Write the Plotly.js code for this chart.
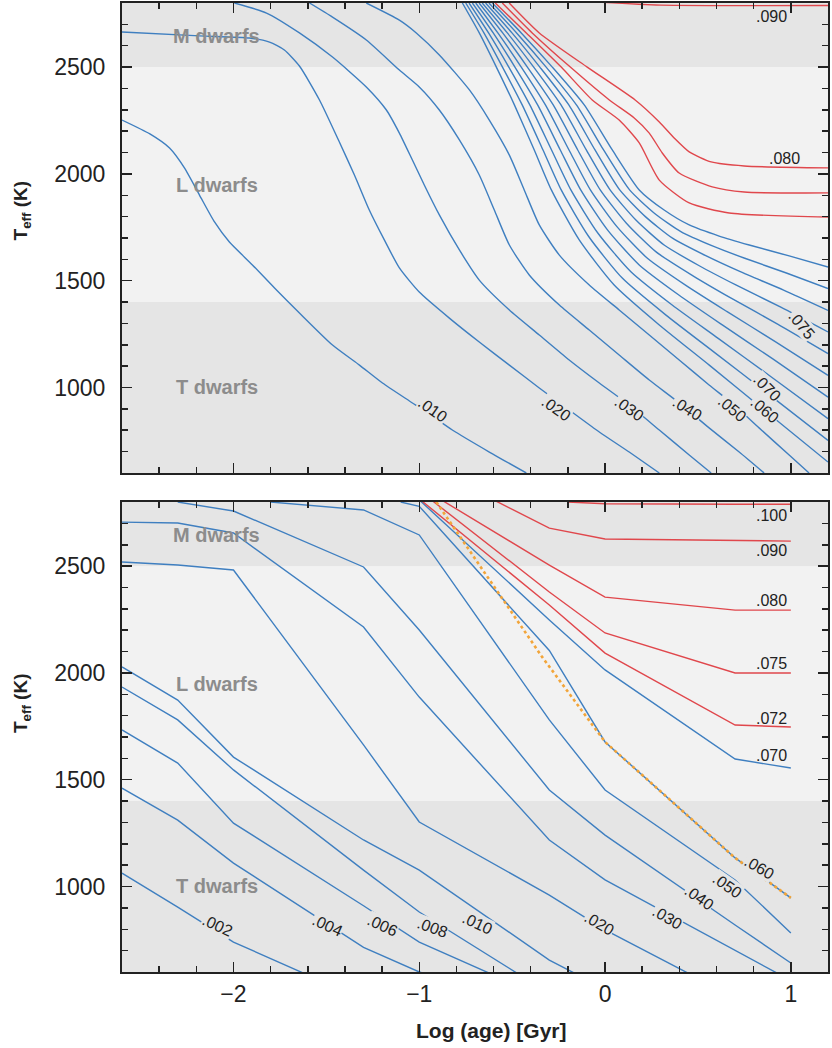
<!DOCTYPE html>
<html><head><meta charset="utf-8">
<script src="https://cdn.plot.ly/plotly-3.0.1.min.js"></script>
<style>body{margin:0;background:#fff}</style>
</head><body><div id="chart" style="width:832px;height:1048px"></div>
<script>
// ---------- TOP PANEL (smooth evolutionary tracks) ----------
const top010Age = [-2.60,-2.45,-2.344,-2.264,-2.183,-2.102,-2.022,-1.898,-1.779,-1.645,-1.467,-1.322,-1.198,-1.053,-0.946,-0.822,-0.623,-0.424];
const top010Teff = [2252,2187,2121,2028,1901,1775,1681,1574,1466,1349,1199,1105,1021,937,876,801,698,600];
const top020Age = [-2.602,-2.183,-1.914,-1.806,-1.726,-1.645,-1.537,-1.430,-1.349,-1.269,-1.188,-1.107,-1.0,-0.838,-0.677,-0.515,-0.354,-0.193,-0.031,0.130,0.292];
const top020Teff = [2664,2646,2636,2617,2580,2505,2346,2149,1995,1831,1691,1560,1447,1325,1213,1105,998,895,792,698,600];
const top030Age = [-1.995,-1.822,-1.645,-1.467,-1.285,-1.177,-1.107,-1.037,-0.973,-0.892,-0.784,-0.677,-0.515,-0.354,-0.193,-0.031,0.130,0.292,0.453,0.571];
const top030Teff = [2800,2753,2660,2547,2407,2299,2191,2065,1948,1808,1644,1503,1363,1246,1129,1021,918,801,684,600];
const top040Age = [-1.591,-1.467,-1.285,-1.107,-1.0,-0.892,-0.784,-0.677,-0.596,-0.515,-0.408,-0.246,-0.085,0.076,0.238,0.399,0.560,0.722,0.856];
const top040Teff = [2800,2734,2627,2486,2407,2299,2159,1995,1831,1667,1527,1386,1269,1152,1035,928,811,698,600];
const top050Age = [-1.285,-1.107,-1.016,-0.892,-0.730,-0.623,-0.515,-0.435,-0.354,-0.246,-0.085,0.076,0.238,0.399,0.560,0.695,0.829,0.991,1.098];
const top050Teff = [2800,2720,2660,2557,2393,2252,2088,1925,1761,1620,1480,1363,1246,1129,1012,918,811,684,600];

// bundle of tracks near the substellar boundary (.060 ... .077), blue
const top060Age = [-0.768,-0.677,-0.585,-0.488,-0.381,-0.289,-0.139,0.049,0.292,0.561,0.856,1.2];
const top060Teff = [2800,2660,2500,2323,2112,1925,1691,1480,1293,1105,895,651];
const top062Age = [-0.750,-0.652,-0.552,-0.446,-0.334,-0.236,-0.088,0.094,0.328,0.585,0.871,1.2];
const top062Teff = [2800,2660,2500,2323,2112,1925,1707,1511,1339,1167,975,752];
const top065Age = [-0.732,-0.627,-0.518,-0.405,-0.288,-0.184,-0.038,0.139,0.363,0.609,0.886,1.2];
const top065Teff = [2800,2660,2500,2323,2112,1925,1722,1542,1385,1230,1055,854];
const top068Age = [-0.714,-0.602,-0.485,-0.363,-0.241,-0.131,0.013,0.184,0.399,0.633,0.901,1.2];
const top068Teff = [2800,2660,2500,2323,2112,1925,1738,1574,1432,1292,1135,955];
const top070Age = [-0.696,-0.577,-0.451,-0.321,-0.194,-0.079,0.064,0.228,0.435,0.657,0.916,1.2];
const top070Teff = [2800,2660,2500,2323,2112,1925,1753,1605,1478,1355,1215,1057];
const top072Age = [-0.678,-0.551,-0.418,-0.279,-0.147,-0.026,0.115,0.273,0.471,0.681,0.931,1.2];
const top072Teff = [2800,2660,2500,2323,2112,1925,1769,1636,1524,1417,1296,1159];
const top075Age = [-0.661,-0.526,-0.384,-0.237,-0.101,0.027,0.166,0.318,0.507,0.704,0.946,1.2];
const top075Teff = [2800,2660,2500,2323,2112,1925,1784,1667,1570,1480,1376,1260];
const top076Age = [-0.643,-0.501,-0.351,-0.195,-0.054,0.079,0.217,0.363,0.542,0.728,0.961,1.2];
const top076Teff = [2800,2660,2500,2323,2112,1925,1800,1699,1617,1542,1456,1361];
const top0765Age = [-0.625,-0.476,-0.317,-0.154,-0.008,0.132,0.267,0.408,0.578,0.752,0.976,1.2];
const top0765Teff = [2800,2660,2500,2323,2112,1925,1815,1730,1663,1605,1536,1463];
const top077Age = [-0.607,-0.451,-0.284,-0.112,0.039,0.184,0.318,0.453,0.614,0.776,0.991,1.2];
const top077Teff = [2800,2660,2500,2323,2112,1925,1831,1761,1709,1667,1616,1564];
// hydrogen-burning stars (red)
const top078Age = [-0.591,-0.424,-0.236,-0.069,0.076,0.184,0.292,0.453,0.668,1.2];
const top078Teff = [2800,2660,2500,2346,2252,2145,1971,1864,1817,1798];
const top079Age = [-0.553,-0.392,-0.187,0.023,0.157,0.238,0.308,0.399,0.577,0.749,1.2];
const top079Teff = [2800,2660,2500,2346,2262,2191,2098,2004,1939,1915,1911];
const top080Age = [-0.516,-0.354,-0.096,0.162,0.292,0.372,0.453,0.571,0.749,1.2];
const top080Teff = [2800,2660,2500,2346,2243,2168,2103,2056,2037,2028];
const top090Age = [-0.05,0.3,1.2];
const top090Teff = [2805,2790,2788];

// ---------- BOTTOM PANEL (piecewise tracks) ----------
const bot002Age = [-2.6,-2.3,-2.0,-1.3];
const bot002Teff = [1063,904,740,470];
const bot004Age = [-2.6,-2.3,-2.0,-1.3,-1.0,-0.3];
const bot004Teff = [1461,1311,1110,715,600,420];
const bot006Age = [-2.6,-2.3,-2.0,-1.3,-1.0,-0.3];
const bot006Teff = [1733,1578,1297,910,740,470];
const bot008Age = [-2.6,-2.3,-2.0,-1.3,-1.0,-0.3];
const bot008Teff = [1934,1780,1546,1077,881,500];
const bot010Age = [-2.6,-2.3,-2.0,-1.3,-1.0,-0.3,0.0];
const bot010Teff = [2028,1873,1606,1218,1077,656,520];
const bot020Age = [-2.6,-2.3,-2.0,-1.3,-1.0,-0.3,0.0,0.7];
const bot020Teff = [2519,2505,2482,1663,1302,960,797,480];
const bot030Age = [-2.6,-2.3,-2.0,-1.3,-1.0,-0.3,0.0,0.7,1.0];
const bot030Teff = [2706,2702,2655,2215,1887,1218,1031,703,560];
const bot040Age = [-2.3,-2.0,-1.3,-1.0,-0.3,0.0,0.7,1.0];
const bot040Teff = [2800,2758,2496,2201,1452,1241,820,642];
const bot050Age = [-1.8,-1.3,-1.0,-0.3,0.0,0.7,1.0];
const bot050Teff = [2800,2763,2646,1780,1452,1031,783];
const bot060Age = [-1.1,-1.0,-0.3,0.0,0.7,1.0];
const bot060Teff = [2800,2780,2105,1677,1134,947];
const bot070Age = [-1.0,-0.3,0.0,0.7,1.0];
const bot070Teff = [2810,2248,2014,1597,1555];
const bot072Age = [-1.0,-0.3,0.0,0.7,1.0];
const bot072Teff = [2815,2318,2093,1756,1747];
const bot075Age = [-0.95,-0.3,0.0,0.7,1.0];
const bot075Teff = [2820,2379,2187,2000,2000];
const bot080Age = [-0.9,-0.3,0.0,0.7,1.0];
const bot080Teff = [2820,2505,2355,2294,2294];
const bot090Age = [-0.6,-0.3,0.0,0.7,1.0];
const bot090Teff = [2810,2678,2627,2620,2617];
const bot100Age = [-0.2,0.0,0.7,1.0];
const bot100Teff = [2800,2792,2790,2790];
const dashedAge = [-0.908,-0.338,0.0,0.7,1.0];
const dashedTeff = [2800,2074,1677,1134,947];

// spectral-class bands (K)
const bandNames = ['M dwarfs','L dwarfs','T dwarfs'];
const bandLo = [2500,1400,600];
const bandHi = [2800,2500,1400];

// tick values
const xTickVals = [-2,-1,0,1];
const yTickVals = [1000,1500,2000,2500];

// line labels
const topLabelText = ['.090','.080','.075','.070','.060','.050','.040','.030','.020','.010'];
const botLabelText = ['.100','.090','.080','.075','.072','.070','.060','.050','.040','.030','.020','.010','.008','.006','.004','.002'];
const xTitle = 'Log (age) [Gyr]';
const yTitle = 'T<sub>eff</sub> (K)';

// ---------- build ----------
const BLUE = '#3f7fc0', RED = '#e0474c', ORANGE = '#f2a53a';
const traces = [];
function addTop(x, y, color){
  traces.push({x:x, y:y, xaxis:'x', yaxis:'y', mode:'lines', hoverinfo:'skip', showlegend:false,
    line:{color:color, width:1.4, shape:'spline', smoothing:0.6}});
}
function addBot(x, y, color, dash, width){
  traces.push({x:x, y:y, xaxis:'x2', yaxis:'y2', mode:'lines', hoverinfo:'skip', showlegend:false,
    line:{color:color, width:width||1.4, dash:dash||'solid'}});
}
addTop(top010Age, top010Teff, BLUE);
addTop(top020Age, top020Teff, BLUE);
addTop(top030Age, top030Teff, BLUE);
addTop(top040Age, top040Teff, BLUE);
addTop(top050Age, top050Teff, BLUE);
[[top060Age,top060Teff],[top062Age,top062Teff],[top065Age,top065Teff],[top068Age,top068Teff],
 [top070Age,top070Teff],[top072Age,top072Teff],[top075Age,top075Teff],[top076Age,top076Teff],
 [top0765Age,top0765Teff],[top077Age,top077Teff]].forEach(p=>addTop(p[0],p[1],BLUE));
addTop(top078Age, top078Teff, RED);
addTop(top079Age, top079Teff, RED);
addTop(top080Age, top080Teff, RED);
addTop(top090Age, top090Teff, RED);

[[bot002Age,bot002Teff],[bot004Age,bot004Teff],[bot006Age,bot006Teff],[bot008Age,bot008Teff],
 [bot010Age,bot010Teff],[bot020Age,bot020Teff],[bot030Age,bot030Teff],[bot040Age,bot040Teff],
 [bot050Age,bot050Teff],[bot060Age,bot060Teff],[bot070Age,bot070Teff]].forEach(p=>addBot(p[0],p[1],BLUE));
[[bot072Age,bot072Teff],[bot075Age,bot075Teff],[bot080Age,bot080Teff],[bot090Age,bot090Teff],
 [bot100Age,bot100Teff]].forEach(p=>addBot(p[0],p[1],RED));
addBot(dashedAge, dashedTeff, ORANGE, 'dot', 2.6);

// shapes: shaded bands
const shapes = [];
const BANDCOL = ['#e5e5e5','#f2f2f2','#e5e5e5'];
['', '2'].forEach(s=>{
  for (let i=0;i<bandNames.length;i++){
    shapes.push({type:'rect', layer:'below', xref:'x'+s+' domain', yref:'y'+s,
      x0:0, x1:1, y0:bandLo[i], y1:bandHi[i], fillcolor:BANDCOL[i], line:{width:0}});
  }
});

// annotations
const FONT = 'Liberation Sans, Arial, sans-serif';
const ann = [];
const bandLabelY = [2646,1948,1002];
['', '2'].forEach(s=>{
  for (let i=0;i<bandNames.length;i++){
    ann.push({xref:'x'+s, yref:'y'+s, x:-2.09, y:bandLabelY[i], text:'<b>'+bandNames[i]+'</b>',
      showarrow:false, font:{family:FONT, size:20, color:'#8c8c8c'}});
  }
});
// label placement: [x, y, angle]
const topLabelPos = [[0.894,2739,0],[0.964,2074,0],[1.055,1293,50],[0.873,1002,45],[0.856,895,40],
  [0.684,904,40],[0.442,904,32],[0.130,904,35],[-0.263,904,35],[-0.930,895,35]];
const botLabelPos = [[0.894,2739,0],[0.894,2575,0],[0.894,2341,0],[0.894,2046,0],[0.894,1789,0],[0.894,1615,0],
  [0.830,1091,30],[0.657,1007,35],[0.507,951,35],[0.335,857,30],[-0.031,829,30],[-0.687,829,25],
  [-0.930,810,20],[-1.198,819,25],[-1.494,819,25],[-2.086,819,25]];
function addLineLabels(texts, pos, s){
  texts.forEach((t,i)=>{
    const p = pos[i];
    ann.push({xref:'x'+s, yref:'y'+s, x:p[0], y:p[1], text:t, textangle:p[2], showarrow:false,
      bgcolor: p[2]!==0 ? '#e5e5e5' : 'rgba(0,0,0,0)', borderpad:0,
      font:{family:FONT, size:16, color:'#222'}});
  });
}
addLineLabels(topLabelText, topLabelPos, '');
addLineLabels(botLabelText, botLabelPos, '2');
// axis titles as annotations (placed like the original)
[0.786, 0.2776].forEach(yy=>{
  ann.push({xref:'paper', yref:'paper', x:-0.1416, y:yy, xanchor:'center', yanchor:'middle',
    text:'<b>'+yTitle+'</b>', textangle:-90, showarrow:false, font:{family:FONT, size:19, color:'#222'}});
});
ann.push({xref:'paper', yref:'paper', x:0.524, y:-0.0599, xanchor:'center', yanchor:'middle',
  text:'<b>'+xTitle+'</b>', showarrow:false, font:{family:FONT, size:21, color:'#222'}});

function xax(anchor, showLabels){
  return {anchor:anchor, domain:[0,1], range:[-2.6,1.2], tickvals:xTickVals, showticklabels:showLabels,
    ticks:'inside', ticklen:10, tickwidth:1.5, tickcolor:'#222',
    minor:{dtick:0.2, tick0:0, ticks:'inside', ticklen:6, tickwidth:1.5, tickcolor:'#222', showgrid:false},
    showline:true, linewidth:2, linecolor:'#222', mirror:'allticks', showgrid:false, zeroline:false,
    tickfont:{family:FONT, size:23, color:'#222'}, ticklabelstandoff:0};
}
function yax(anchor, dom){
  return {anchor:anchor, domain:dom, range:[600,2800], tickvals:yTickVals,
    ticks:'inside', ticklen:10, tickwidth:1.5, tickcolor:'#222',
    minor:{dtick:100, tick0:0, ticks:'inside', ticklen:6, tickwidth:1.5, tickcolor:'#222', showgrid:false},
    showline:true, linewidth:2, linecolor:'#222', mirror:'allticks', showgrid:false, zeroline:false,
    tickfont:{family:FONT, size:23, color:'#222'}, ticklabelstandoff:10};
}
const layout = {
  width:832, height:1048, margin:{l:122, r:4, t:3, b:76},
  paper_bgcolor:'#ffffff', plot_bgcolor:'#f2f2f2', showlegend:false,
  xaxis: xax('y', false),
  yaxis: yax('x', [0.515,1]),
  xaxis2: xax('y2', true),
  yaxis2: yax('x2', [0,0.485]),
  shapes:shapes, annotations:ann
};
Plotly.newPlot('chart', traces, layout, {staticPlot:true, displayModeBar:false});
</script></body></html>
